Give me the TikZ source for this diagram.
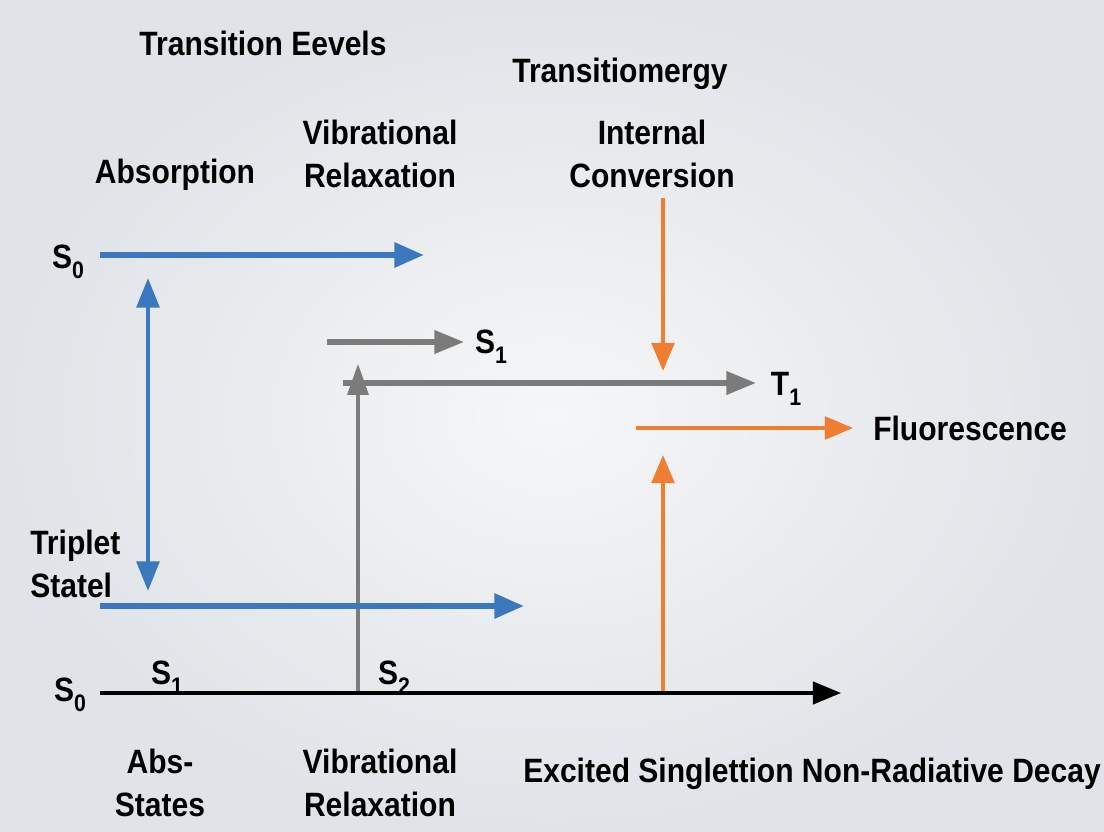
\documentclass[tikz,border=0pt]{standalone}
\usepackage{fontspec}
\setmainfont{Liberation Sans}[FakeStretch=0.89]
\usetikzlibrary{arrows.meta}
\definecolor{absblue}{HTML}{3C78BE}
\definecolor{relaxgray}{HTML}{7B7B7B}
\definecolor{convorange}{HTML}{EF7D32}
\definecolor{bgcenter}{HTML}{F5F6F7}
\definecolor{bgedge}{HTML}{E0E4E8}
\newcommand{\lvl}[2]{#1\raisebox{-.55ex}{\fontsize{17}{17}\selectfont #2}}
\tikzset{
  txt/.style={font=\fontsize{24}{30}\selectfont\bfseries,align=center,inner sep=0pt},
  blueflow/.style={-{Triangle[length=21pt,width=17pt]},draw=absblue,line width=4.3pt},
  bluedouble/.style={{Triangle[length=21pt,width=16pt]}-{Triangle[length=21pt,width=16pt]},draw=absblue,line width=3pt},
  grayflow/.style={-{Triangle[length=21pt,width=16pt]},draw=relaxgray,line width=3.6pt},
  grayrise/.style={-{Triangle[length=22pt,width=15pt]},draw=relaxgray,line width=2.2pt},
  orangeflow/.style={-{Triangle[length=20pt,width=16pt]},draw=convorange,line width=3pt},
  axis/.style={-{Triangle[length=20pt,width=16pt]},draw=black,line width=2.2pt},
}
\begin{document}
\begin{tikzpicture}[x=0.025cm,y=-0.025cm]
\shade[inner color=bgcenter,outer color=bgedge] (0,0) rectangle (1104,832);
\useasboundingbox (0,0) rectangle (1104,832);
% headings
\node[txt] (levels) at (263,43) {Transition Eevels};
\node[txt] (energy) at (620,74) {Transitiomergy};
\node[txt] (absorb) at (175,175) {Absorption};
\node[txt] (vibtop) at (380,154) {Vibrational\\Relaxation};
\node[txt] (intconv) at (652,154) {Internal\\Conversion};
% level labels
\node[txt] (s0top) at (68,262) {\lvl{S}{0}};
\node[txt] (s1mid) at (491,347) {\lvl{S}{1}};
\node[txt] (t1) at (786,389) {\lvl{T}{1}};
\node[txt,anchor=west] (fluor) at (873,428) {Fluorescence};
\node[txt,anchor=west,align=left] (triplet) at (30,564) {Triplet\\Statel};
\node[txt] (s0low) at (70,695) {\lvl{S}{0}};
\node[txt] (s1low) at (167,678) {\lvl{S}{1}};
\node[txt] (s2low) at (394,678) {\lvl{S}{2}};
\node[txt] (absstates) at (160,783) {Abs-\\States};
\node[txt] (vibbot) at (380,783) {Vibrational\\Relaxation};
\node[txt,anchor=west] (decay) at (523,774) {Excited Singlettion Non-Radiative Decay};
% arrow ends
\coordinate (b1s) at (100,255); \coordinate (b1e) at (424,255);
\coordinate (b2s) at (100,606); \coordinate (b2e) at (524,606);
\coordinate (dtop) at (148,278); \coordinate (dbot) at (148,591);
\coordinate (g1s) at (327,342); \coordinate (g1e) at (464,342);
\coordinate (g2s) at (343,383); \coordinate (g2e) at (756,383);
\coordinate (gbot) at (358,693); \coordinate (gtop) at (358,364);
\coordinate (o1s) at (663,198); \coordinate (o1e) at (663,371);
\coordinate (o2s) at (636,428); \coordinate (o2e) at (853,428);
\coordinate (o3s) at (663,693); \coordinate (o3e) at (663,455);
\coordinate (ax0) at (100,693); \coordinate (ax1) at (841,693);
% transitions
\draw[grayrise] (gbot) -- (gtop);
\draw[blueflow] (b1s) -- (b1e);
\draw[blueflow] (b2s) -- (b2e);
\draw[bluedouble] (dtop) -- (dbot);
\draw[grayflow] (g1s) -- (g1e);
\draw[grayflow] (g2s) -- (g2e);
\draw[orangeflow] (o1s) -- (o1e);
\draw[orangeflow] (o2s) -- (o2e);
\draw[orangeflow] (o3s) -- (o3e);
\draw[axis] (ax0) -- (ax1);
\end{tikzpicture}
\end{document}
